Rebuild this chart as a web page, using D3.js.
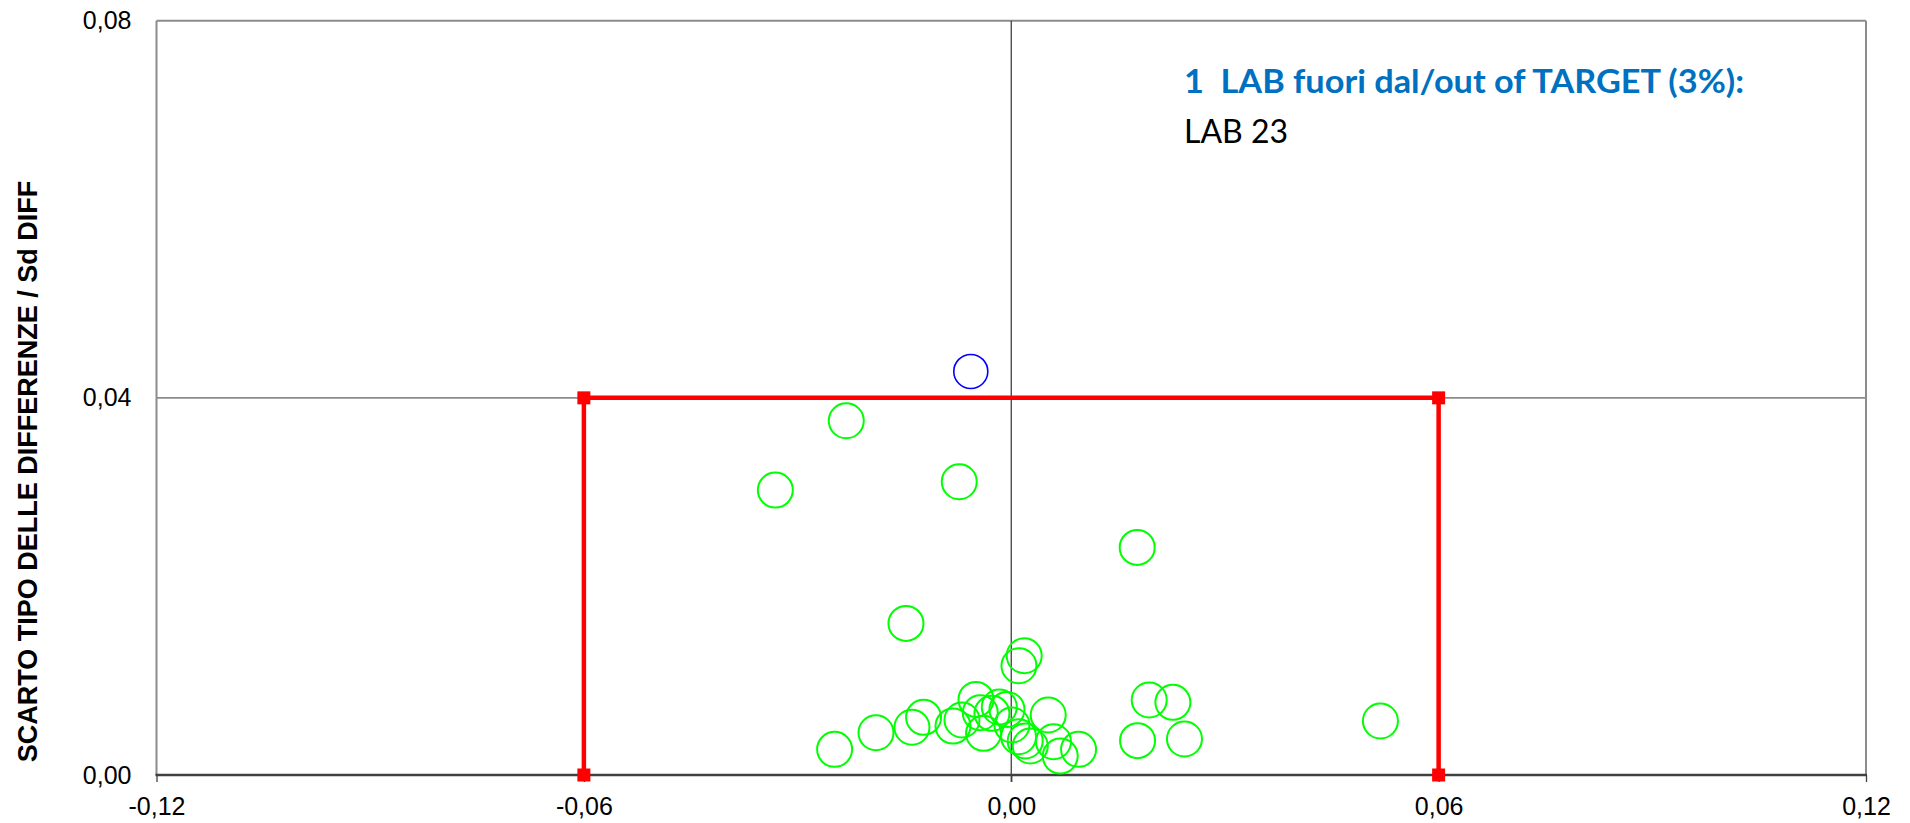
<!DOCTYPE html>
<html>
<head>
<meta charset="utf-8">
<script src="https://cdn.jsdelivr.net/npm/d3@7"></script>
<style>
  html, body { margin: 0; padding: 0; background: #ffffff; }
  svg { display: block; }
</style>
</head>
<body>
<svg id="chart" width="1910" height="823"></svg>
<script>
// ---- data ----
const xTicks = [-0.12, -0.06, 0.00, 0.06, 0.12];
const yTicks = [0.00, 0.04, 0.08];
const targetX = [-0.06, -0.06, 0.06, 0.06];
const targetY = [0.00, 0.04, 0.04, 0.00];

// labs inside target (mean difference, sd of differences)
const inX = [-0.02316, -0.03312, -0.00730, 0.01768, -0.01478, 0.00182, 0.00108,
  -0.02480, -0.01899, -0.01394, -0.01231,
  -0.00818, -0.00692, -0.00495, -0.00389, -0.00435, -0.00271, -0.00168, -0.00060,
  0.00010, 0.00103, 0.00196, 0.00267, 0.00519, 0.00593, 0.00688, 0.00945,
  0.01937, 0.02269, 0.01773, 0.02432, 0.05183];
const inY = [0.03757, 0.03022, 0.03110, 0.02414, 0.01608, 0.01265, 0.01159,
  0.00272, 0.00448, 0.00506, 0.00612,
  0.00519, 0.00583, 0.00802, 0.00442, 0.00660, 0.00654, 0.00721, 0.00696,
  0.00530, 0.00406, 0.00361, 0.00308, 0.00636, 0.00353, 0.00201, 0.00272,
  0.00795, 0.00771, 0.00364, 0.00382, 0.00573];
// labs out of target
const outX = [-0.00568];
const outY = [0.04280];

const noteTitle = "1  LAB fuori dal/out of TARGET (3%):";
const noteLabs = ["LAB 23"];
const yTitle = "SCARTO TIPO DELLE DIFFERENZE / Sd DIFF";

// ---- layout ----
const L = 156.5, R = 1866, T = 20.7, B = 775;
const x = d3.scaleLinear().domain([-0.12, 0.12]).range([L, R]);
const y = d3.scaleLinear().domain([0, 0.08]).range([B, T]);
const fmt = d => d3.format(".2f")(d).replace(".", ",").replace("−", "-");

const svg = d3.select("#chart");

// frame (top, right) and grid at 0.04
svg.append("line").attr("x1", L).attr("x2", R).attr("y1", y(0.08)).attr("y2", y(0.08))
  .attr("stroke", "#8c8c8c").attr("stroke-width", 2);
svg.append("line").attr("x1", R).attr("x2", R).attr("y1", T).attr("y2", B)
  .attr("stroke", "#8c8c8c").attr("stroke-width", 2);
svg.append("line").attr("x1", L).attr("x2", R).attr("y1", y(0.04)).attr("y2", y(0.04))
  .attr("stroke", "#8c8c8c").attr("stroke-width", 1.6);
// left axis line
svg.append("line").attr("x1", L).attr("x2", L).attr("y1", T).attr("y2", B)
  .attr("stroke", "#8c8c8c").attr("stroke-width", 2);
// vertical zero line
svg.append("line").attr("x1", x(0)).attr("x2", x(0)).attr("y1", T).attr("y2", B + 7)
  .attr("stroke", "#404040").attr("stroke-width", 1.3);

// x axis
const xAxis = svg.append("g").attr("transform", `translate(0,${B})`)
  .call(d3.axisBottom(x).tickValues(xTicks).tickFormat(fmt).tickSize(7).tickPadding(15));
xAxis.select(".domain").remove();
xAxis.selectAll(".tick line").attr("stroke", "#404040").attr("stroke-width", 1.3);
xAxis.selectAll("text").attr("font-family", "'Liberation Sans', Arial, sans-serif")
  .attr("font-size", 25).attr("fill", "#000");
svg.append("line").attr("x1", L - 1).attr("x2", R + 1).attr("y1", B).attr("y2", B)
  .attr("stroke", "#404040").attr("stroke-width", 2.5);

// y axis
const yAxis = svg.append("g").attr("transform", `translate(${L},0)`)
  .call(d3.axisLeft(y).tickValues(yTicks).tickFormat(fmt).tickSize(0).tickPadding(25));
yAxis.select(".domain").remove();
yAxis.selectAll("text").attr("font-family", "'Liberation Sans', Arial, sans-serif")
  .attr("font-size", 25).attr("fill", "#000");

// y title
svg.append("text")
  .attr("transform", `translate(36.5,${(185 + 758) / 2}) rotate(-90)`)
  .attr("text-anchor", "middle")
  .attr("font-family", "'Liberation Sans', Arial, sans-serif")
  .attr("font-weight", "bold").attr("font-size", 27)
  .text(yTitle);

// target box
const tpts = targetX.map((d, i) => [d, targetY[i]]);
svg.append("path")
  .attr("d", d3.line().x(d => x(d[0])).y(d => y(d[1]))(tpts))
  .attr("fill", "none").attr("stroke", "#ff0000").attr("stroke-width", 4.5);
svg.selectAll("rect.mk").data(tpts).join("rect").attr("class", "mk")
  .attr("x", d => x(d[0]) - 6.5).attr("y", d => y(d[1]) - 6.5)
  .attr("width", 13).attr("height", 13).attr("fill", "#ff0000");

// points
const inPts = inX.map((d, i) => [d, inY[i]]);
svg.selectAll("circle.in").data(inPts).join("circle").attr("class", "in")
  .attr("cx", d => x(d[0])).attr("cy", d => y(d[1])).attr("r", 17.5)
  .attr("fill", "none").attr("stroke", "#00ff00").attr("stroke-width", 2);
const outPts = outX.map((d, i) => [d, outY[i]]);
svg.selectAll("circle.out").data(outPts).join("circle").attr("class", "out")
  .attr("cx", d => x(d[0])).attr("cy", d => y(d[1])).attr("r", 17)
  .attr("fill", "none").attr("stroke", "#0000ff").attr("stroke-width", 1.6);

// note
const t1 = svg.append("text").attr("x", 1184).attr("y", 92.5)
  .attr("xml:space", "preserve").style("white-space", "pre")
  .attr("font-family", "Lato, 'Open Sans', sans-serif").attr("font-weight", "bold")
  .attr("font-size", 33).attr("fill", "#0070c0").text(noteTitle);
const w1 = t1.node().getComputedTextLength();
if (Math.abs(w1 - 560) > 6) t1.attr("textLength", 560).attr("lengthAdjust", "spacingAndGlyphs");
svg.selectAll("text.lab").data(noteLabs).join("text").attr("class", "lab")
  .attr("x", 1184).attr("y", (d, i) => 143 + i * 50)
  .attr("font-family", "Lato, 'Open Sans', sans-serif")
  .attr("font-size", 32).attr("fill", "#000").text(d => d);
</script>
</body>
</html>
